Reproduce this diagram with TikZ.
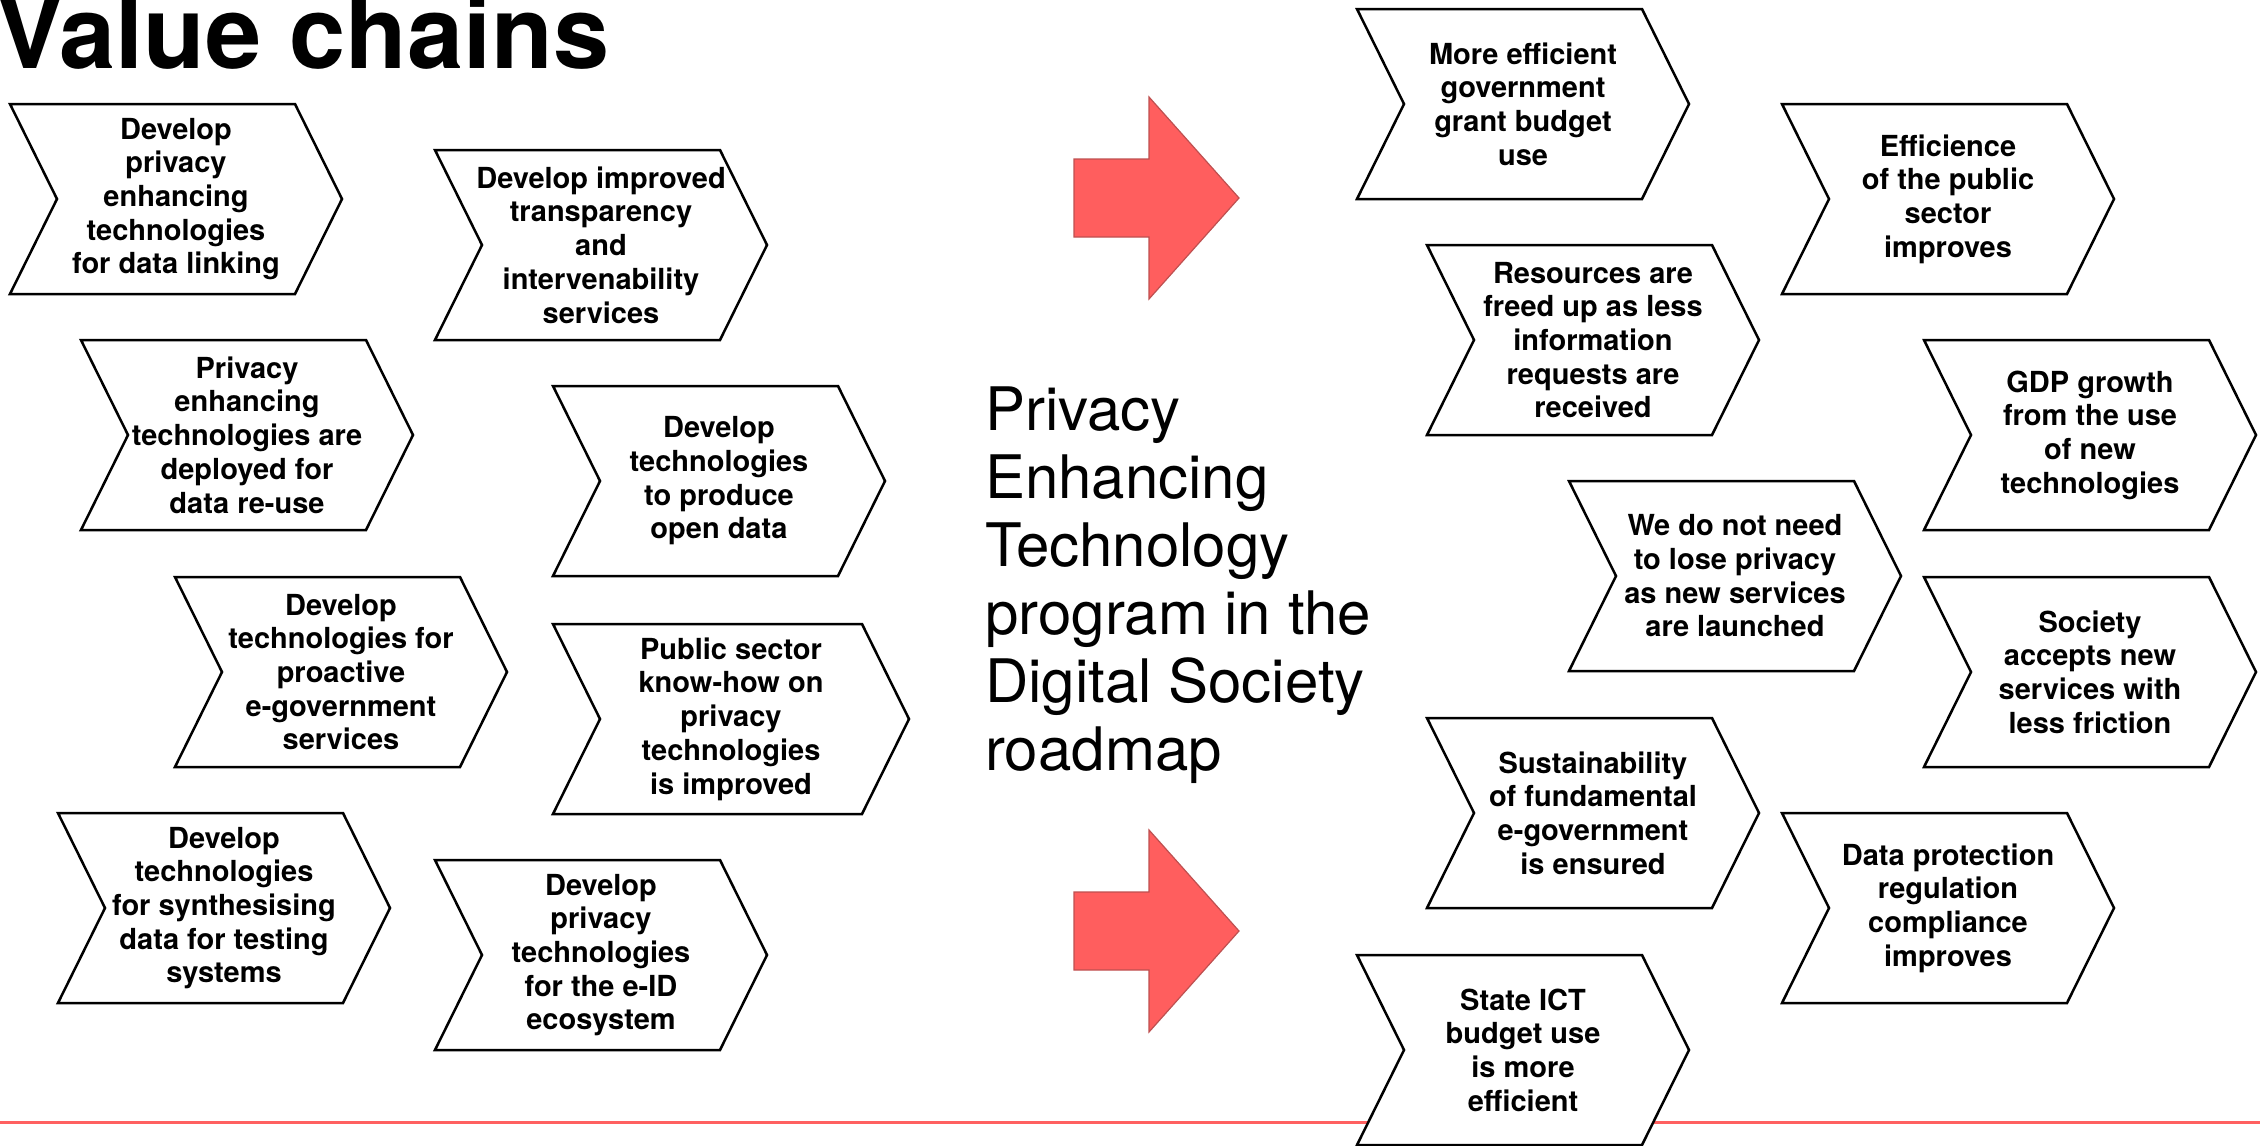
\documentclass[tikz,border=0pt]{standalone}
\usepackage{fontspec}
\setmainfont{TeX Gyre Heros}
\definecolor{arrowred}{RGB}{255,94,94}
\definecolor{arrowedge}{RGB}{190,80,80}
\definecolor{linered}{RGB}{255,96,96}
\newcommand\chevron[5]{%
  \draw[chevshape] (#2,#3) -- ++({#4-47},0) -- ++(47,95) -- ++(-47,95) -- ++({47-#4},0) -- ++(47,-95) -- cycle;
  \node[chevtext] (#1) at ({#2+#4/2},{#3+95}) {#5};}
\begin{document}
\begin{tikzpicture}[x=1pt,y=-1pt,
  chevshape/.style={draw=black, line width=2.5pt, fill=white, line join=miter},
  chevtext/.style={font=\fontsize{29}{33.7}\selectfont\bfseries, align=center, inner sep=0pt},
  redarrow/.style={fill=arrowred, draw=arrowedge, line width=1.2pt, line join=miter},
  baseline/.style={draw=linered, line width=3pt}]
\useasboundingbox (0,0) rectangle (2260,1146);
% bottom rule
\coordinate (ruleL) at (0,1122);
\coordinate (ruleR) at (2260,1122);
\draw[baseline] (ruleL) -- (ruleR);
% title
\node[anchor=base west, inner sep=0pt, font=\fontsize{101}{101}\selectfont\bfseries] (title) at (-4,68) {Value chains};
% left chevrons
\chevron{c1}{10}{104}{332}{Develop\\privacy\\enhancing\\technologies\\for data linking}
\chevron{c2}{435}{150}{332}{Develop improved\\transparency\\and\\intervenability\\services}
\chevron{c3}{81}{340}{332}{Privacy\\enhancing\\technologies are\\deployed for\\data re-use}
\chevron{c4}{553}{386}{332}{Develop\\technologies\\to produce\\open data}
\chevron{c5}{175}{577}{332}{Develop\\technologies for\\proactive\\e-government\\services}
\chevron{c6}{553}{624}{356}{Public sector\\know-how on\\privacy\\technologies\\is improved}
\chevron{c7}{58}{813}{332}{Develop\\technologies\\for synthesising\\data for testing\\systems}
\chevron{c8}{435}{860}{332}{Develop\\privacy\\technologies\\for the e-ID\\ecosystem}
% right chevrons
\chevron{c9}{1357}{9}{332}{More efficient\\government\\grant budget\\use}
\chevron{c10}{1782}{104}{332}{Efficience\\of the public\\sector\\improves}
\chevron{c11}{1427}{245}{332}{Resources are\\freed up as less\\information\\requests are\\received}
\chevron{c12}{1924}{340}{332}{GDP growth\\from the use\\of new\\technologies}
\chevron{c13}{1569}{481}{332}{We do not need\\to lose privacy\\as new services\\are launched}
\chevron{c14}{1924}{577}{332}{Society\\accepts new\\services with\\less friction}
\chevron{c15}{1427}{718}{332}{Sustainability\\of fundamental\\e-government\\is ensured}
\chevron{c16}{1782}{813}{332}{Data protection\\regulation\\compliance\\improves}
\chevron{c17}{1357}{955}{332}{State ICT\\budget use\\is more\\efficient}
% red arrows
\draw[redarrow] (1074,159) -- (1149,159) -- (1149,97) -- (1239,198) -- (1149,299) -- (1149,237) -- (1074,237) -- cycle;
\draw[redarrow] (1074,892) -- (1149,892) -- (1149,830) -- (1239,931) -- (1149,1032) -- (1149,970) -- (1074,970) -- cycle;
% central text (base anchor = baseline of last line)
\node[anchor=base west, inner sep=0pt, align=left, font=\fontsize{60}{68}\selectfont] (program) at (985,770) {Privacy\\Enhancing\\Technology\\program in the\\Digital Society\\roadmap};
\end{tikzpicture}
\end{document}
